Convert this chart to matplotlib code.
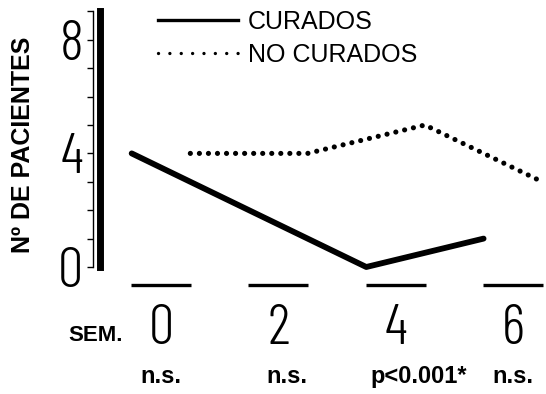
import matplotlib
matplotlib.use('Agg')
import matplotlib.pyplot as plt
import matplotlib.transforms as mtransforms
from matplotlib.lines import Line2D

# ---- data ----
weeks = [0, 2, 4, 6]
week_labels = ['0', '2', '4', '6']
curados = [4, 2, 0, 1]
no_curados = [4, 4, 5, 3]
y_ticks = list(range(10))
y_tick_labels = ['0', '', '', '', '4', '', '', '', '8', '']
stats = ['n.s.', 'n.s.', 'p<0.001*', 'n.s.']
series_names = ['CURADOS', 'NO CURADOS']
y_label = 'Nº DE PACIENTES'
x_label = 'SEM.'

plt.rcParams['font.family'] = ['Liberation Sans', 'DejaVu Sans']
NARROW = ['Barlow Condensed', 'DejaVu Sans']

W, H = 546, 394
fig = plt.figure(figsize=(W / 100, H / 100), dpi=100)
ax_l, ax_r, ax_b, ax_t = 93, 546, 267, 11.4
ax = fig.add_axes([ax_l / W, (H - ax_b) / H, (ax_r - ax_l) / W, (ax_b - ax_t) / H])
px_per_week = 58.65
x_zero = 161
ax.set_xlim((ax_l - x_zero) / px_per_week, (ax_r - x_zero) / px_per_week)
ax.set_ylim(0, 9)

off = 0.5
ax.plot([w - off for w in weeks], curados, color='black', lw=4.2,
        solid_capstyle='round', solid_joinstyle='round', clip_on=False)
ax.plot([w + off for w in weeks], no_curados, color='black', lw=3.7,
        ls=(0, (0.01, 1.75)), dash_capstyle='round', clip_on=False)
ax.hlines([-0.63] * len(weeks), [w - 0.51 for w in weeks], [w + 0.51 for w in weeks],
          color='black', lw=2.4, clip_on=False)

# spines
ax.spines['top'].set_visible(False)
ax.spines['bottom'].set_visible(False)
ax.spines['left'].set_linewidth(1.0)
ax.spines['right'].set_position(('axes', 6.5 / (ax_r - ax_l)))
ax.spines['right'].set_linewidth(5.0)

ax.set_yticks(y_ticks, y_tick_labels)
ax.tick_params(axis='y', direction='out', length=4.5, width=1.0, pad=2.5, labelsize=41)
ax.set_xticks(weeks, week_labels)
ax.tick_params(axis='x', length=0, pad=27, labelsize=41)
for lab in ax.get_yticklabels() + ax.get_xticklabels():
    lab.set_fontfamily(NARROW)
    lab.set_fontweight(300)

ax.set_ylabel(y_label, fontsize=18, fontweight='bold')
ax.yaxis.set_label_coords((35 - ax_l) / (ax_r - ax_l), (ax_b - 145) / (ax_b - ax_t))

fig.text(123 / W, 1 - 341 / H, x_label, ha='right', va='baseline',
         fontsize=16, fontweight='bold')

trans = mtransforms.blended_transform_factory(ax.transData, fig.transFigure)
stat_shift = [0.0, 0.15, 0.4, 0.0]
for w, s, sh in zip(weeks, stats, stat_shift):
    ax.text(w + sh, 1 - 383 / H, s, transform=trans, ha='center', va='baseline',
            fontsize=17, fontweight='bold')

handles = [Line2D([], [], color='black', lw=2.4),
           Line2D([], [], color='black', lw=2.4, ls=(0, (0.01, 3.4)), dash_capstyle='round')]
leg = ax.legend(handles, series_names, loc='upper left', bbox_to_anchor=(158 / W, 1 - 10 / H),
                bbox_transform=fig.transFigure, frameon=False, fontsize=18,
                handlelength=3.2, handletextpad=0.4, labelspacing=0.35, borderpad=0,
                borderaxespad=0)
for t in leg.get_texts():
    t.set_fontweight('medium')

fig.savefig('out.png', dpi=100)
